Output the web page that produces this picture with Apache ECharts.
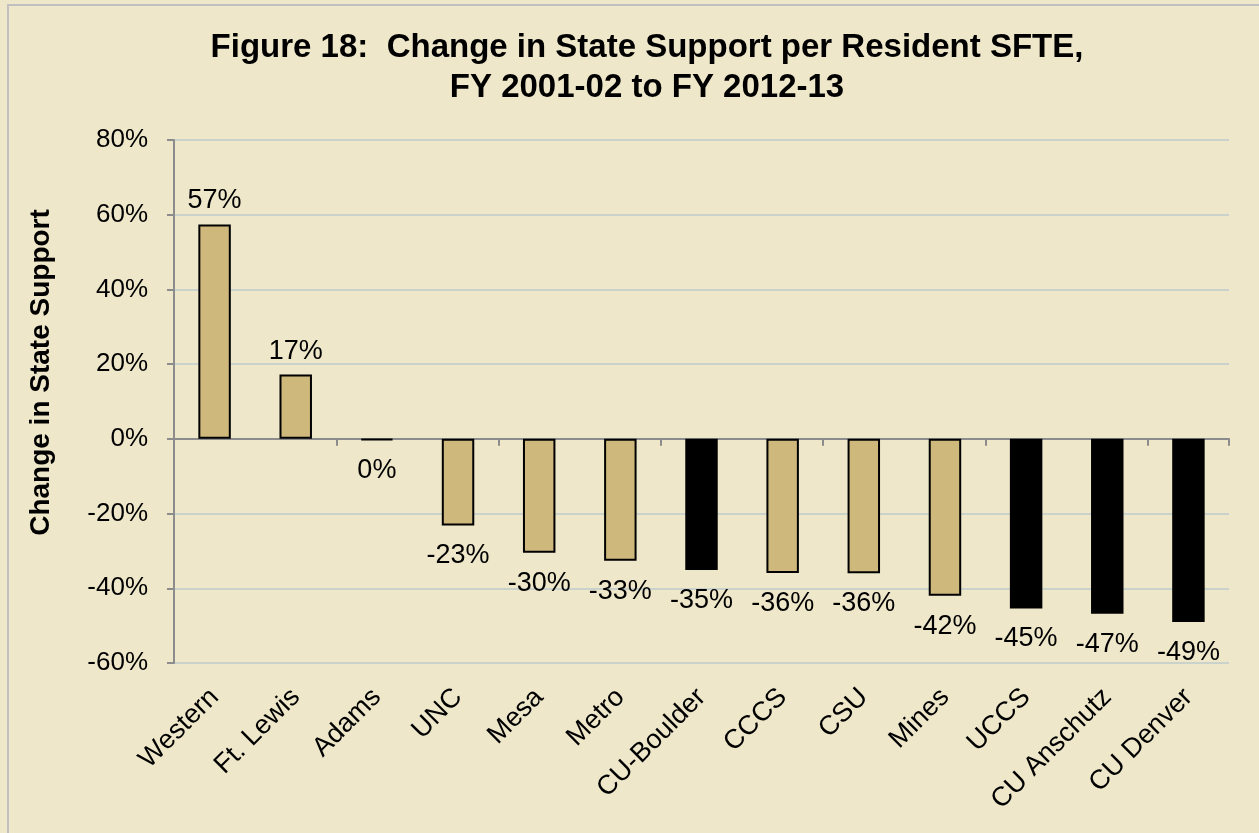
<!DOCTYPE html>
<html>
<head>
<meta charset="utf-8">
<script src="https://cdn.jsdelivr.net/npm/echarts@6/dist/echarts.min.js"></script>
<style>
  html, body { margin: 0; padding: 0; background: #EEE7C9; }
  #chart { width: 1259px; height: 833px; }
</style>
</head>
<body>
<div id="chart"></div>
<script>
const categories = ['Western', 'Ft. Lewis', 'Adams', 'UNC', 'Mesa', 'Metro', 'CU-Boulder',
  'CCCS', 'CSU', 'Mines', 'UCCS', 'CU Anschutz', 'CU Denver']
const changePct = [57.4, 17.2, -0.3, -23.2, -30.5, -32.6, -35.1, -35.9, -36.0, -42.0, -45.4, -46.8, -49.0]
const isCU = [false, false, false, false, false, false, true, false, false, false, true, true, true]
const yTicks = [-60, -40, -20, 0, 20, 40, 60, 80]

const GOLD = '#CFB87C'
const AXIS_GREY = '#8C8C8C'
const FONT = 'Liberation Sans, Arial, sans-serif'

const chart = echarts.init(document.getElementById('chart'))
chart.setOption({
  backgroundColor: '#EEE7C9',
  textStyle: { fontFamily: FONT },
  graphic: [
    {
      type: 'rect',
      shape: { x: 8, y: 5, width: 1300, height: 900 },
      style: { fill: 'none', stroke: '#C0C0C0', lineWidth: 2 },
      silent: true
    }
  ],
  title: {
    text: 'Figure 18:  Change in State Support per Resident SFTE,\nFY 2001-02 to FY 2012-13',
    left: 642,
    top: 23,
    textAlign: 'center',
    textStyle: {
      fontSize: 33,
      fontWeight: 'bold',
      color: '#000',
      lineHeight: 40,
      fontFamily: FONT
    }
  },
  grid: {
    left: 174,
    right: 30,
    top: 140,
    bottom: 170,
    containLabel: false,
    outerBoundsMode: 'none'
  },
  xAxis: [
    {
      // labels along the bottom of the plot
      type: 'category',
      data: categories,
      position: 'bottom',
      axisLine: { show: false, onZero: false },
      axisTick: { show: false },
      axisLabel: {
        rotate: 45,
        interval: 0,
        fontSize: 27,
        color: '#000',
        margin: 30
      }
    },
    {
      // the line and ticks at zero
      type: 'category',
      data: categories,
      position: 'bottom',
      axisLine: { show: true, onZero: true, lineStyle: { color: AXIS_GREY, width: 2 } },
      axisTick: { show: true, length: 7, lineStyle: { color: AXIS_GREY, width: 2 } },
      axisLabel: { show: false }
    }
  ],
  yAxis: {
    type: 'value',
    min: yTicks[0],
    max: yTicks[yTicks.length - 1],
    interval: 20,
    name: 'Change in State Support',
    nameLocation: 'middle',
    nameGap: 119,
    nameTextStyle: { fontSize: 28, fontWeight: 'bold', color: '#000', padding: [0, 0, 0, 58] },
    axisLine: { show: true, lineStyle: { color: AXIS_GREY, width: 2 } },
    axisTick: { show: true, length: 7, lineStyle: { color: AXIS_GREY, width: 2 } },
    axisLabel: {
      fontSize: 26,
      color: '#000',
      margin: 26,
      formatter: v => v + '%'
    },
    splitLine: { lineStyle: { color: '#C9D3CC', width: 2 } }
  },
  series: [
    {
      type: 'bar',
      xAxisIndex: 0,
      barWidth: '40%',
      data: changePct.map((v, i) => ({
        value: v,
        itemStyle: isCU[i]
          ? { color: '#000', borderColor: '#000', borderWidth: 0 }
          : { color: GOLD, borderColor: '#000', borderWidth: 2 },
        label: v < 0 ? { position: 'bottom', distance: 17 } : { position: 'top', distance: 10 }
      })),
      label: {
        show: true,
        fontSize: 27,
        color: '#000',
        formatter: p => Math.round(p.value) + '%'
      },
      silent: true
    }
  ]
})
</script>
</body>
</html>
